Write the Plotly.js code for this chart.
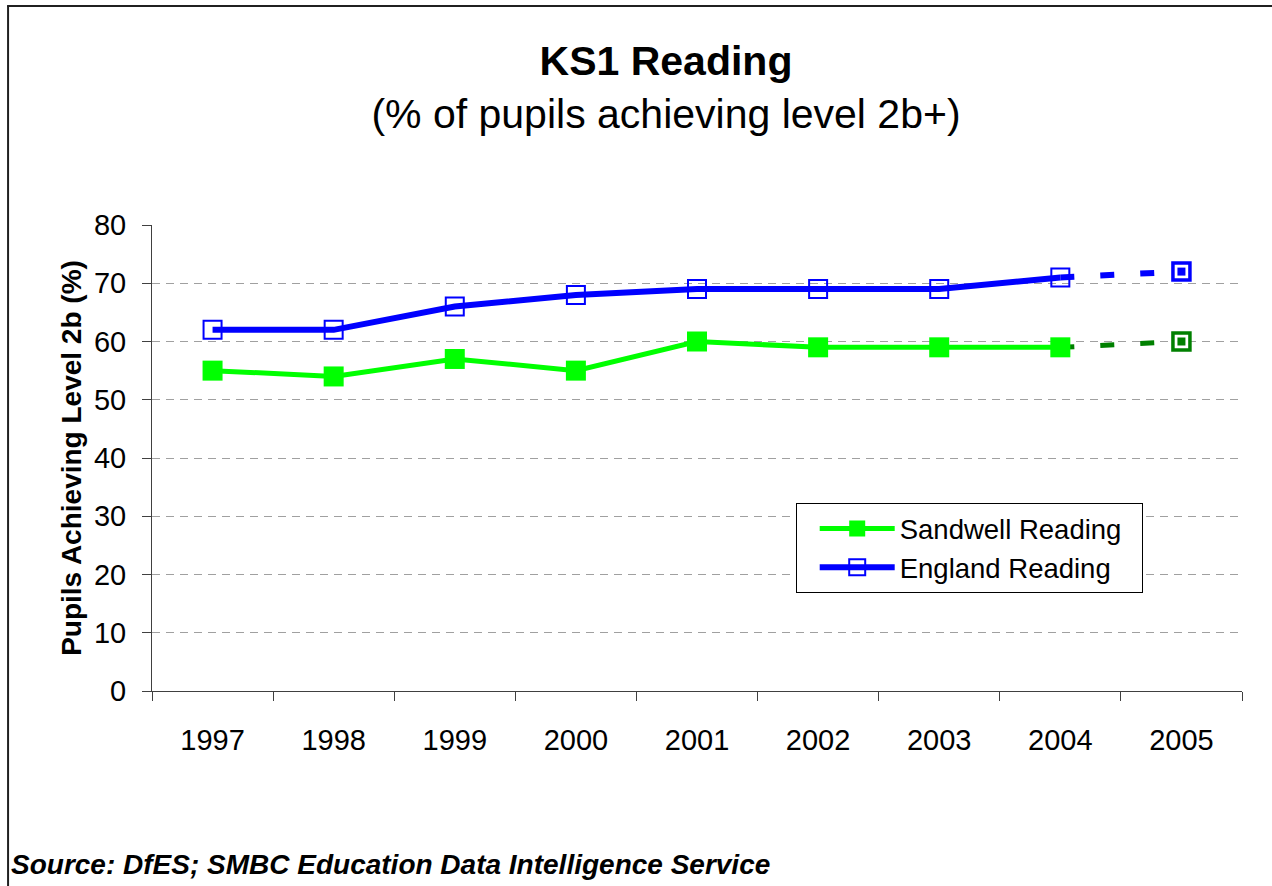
<!DOCTYPE html>
<html>
<head>
<meta charset="utf-8">
<script src="https://cdn.plot.ly/plotly-3.0.1.min.js"></script>
<style>
  html, body { margin: 0; padding: 0; background: #ffffff; }
  #chart { width: 1272px; height: 886px; }
</style>
</head>
<body>
<div id="chart"></div>
<script>
// ---- data ----
const years = ['1997', '1998', '1999', '2000', '2001', '2002', '2003', '2004', '2005'];
const actualYears = ['1997', '1998', '1999', '2000', '2001', '2002', '2003', '2004'];
const sandwellReading = [55, 54, 57, 55, 60, 59, 59, 59];
const englandReading = [62, 62, 66, 68, 69, 69, 69, 71];
const projYears = ['2004', '2005'];
const sandwellProj = [59, 60];
const englandProj = [71, 72];
const yTicks = [0, 10, 20, 30, 40, 50, 60, 70, 80];

const FONT = 'Arial, "Liberation Sans", sans-serif';
const BLUE = '#0000ff';
const GREEN = '#00ff00';
const DKGREEN = '#008000';

const traces = [
  {
    x: projYears, y: englandProj, mode: 'lines', type: 'scatter',
    line: { color: BLUE, width: 6, dash: '14px,26px' },
    showlegend: false, hoverinfo: 'skip'
  },
  {
    x: projYears, y: sandwellProj, mode: 'lines', type: 'scatter',
    line: { color: DKGREEN, width: 5, dash: '14px,26px' },
    showlegend: false, hoverinfo: 'skip'
  },
  {
    name: 'Sandwell Reading&nbsp;&nbsp;', x: actualYears, y: sandwellReading,
    mode: 'lines+markers', type: 'scatter',
    line: { color: GREEN, width: 5 },
    marker: { symbol: 'square', size: 20, color: GREEN },
    legendgroup: 'a'
  },
  {
    name: 'England Reading', x: actualYears, y: englandReading,
    mode: 'lines+markers', type: 'scatter',
    line: { color: BLUE, width: 6 },
    marker: { symbol: 'square-open', size: 18, color: BLUE, line: { color: BLUE, width: 2 } },
    legendgroup: 'b'
  },
  {
    x: [projYears[1], projYears[1]], y: [englandProj[1], sandwellProj[1]],
    mode: 'markers', type: 'scatter',
    marker: { symbol: 'square', size: 17, color: '#ffffff', line: { color: [BLUE, DKGREEN], width: 3.5 } },
    showlegend: false, hoverinfo: 'skip'
  },
  {
    x: [projYears[1], projYears[1]], y: [englandProj[1], sandwellProj[1]],
    mode: 'markers', type: 'scatter',
    marker: { symbol: 'square', size: 8, color: [BLUE, DKGREEN] },
    showlegend: false, hoverinfo: 'skip'
  }
];

const L = 152, R = 1242.5, T = 225, B = 691;
const px2x = p => (p - L) / (R - L);
const px2y = p => (B - p) / (B - T);

const layout = {
  width: 1272, height: 886,
  margin: { l: L, r: 1272 - R, t: T, b: 886 - B, pad: 0 },
  paper_bgcolor: '#ffffff', plot_bgcolor: '#ffffff',
  font: { family: FONT, color: '#000000' },
  showlegend: true,
  title: {
    text: '<b>KS1 Reading</b><br>(% of pupils achieving level 2b+)',
    font: { family: FONT, size: 41, color: '#000000' },
    x: 666 / 1272, xref: 'container', xanchor: 'center',
    y: 1 - 75 / 886, yref: 'container', yanchor: 'top'
  },
  xaxis: {
    type: 'category', categoryorder: 'array', categoryarray: years,
    range: [-0.5, 8.5],
    showline: true, linecolor: '#404040', linewidth: 1,
    ticks: 'outside', tickson: 'boundaries', ticklen: 9, tickcolor: '#404040', tickwidth: 1,
    ticklabelstandoff: 23,
    tickfont: { family: FONT, size: 29, color: '#000000' },
    showgrid: false, zeroline: false, fixedrange: true
  },
  yaxis: {
    range: [0, 80], tickvals: yTicks, ticktext: yTicks.map(String),
    showline: true, linecolor: '#404040', linewidth: 1,
    ticks: 'outside', ticklen: 9, tickcolor: '#404040', tickwidth: 1,
    ticklabelstandoff: 10,
    tickfont: { family: FONT, size: 29, color: '#000000' },
    showgrid: true, gridcolor: '#a0a0a0', gridwidth: 1, griddash: '8px,6px',
    zeroline: false, fixedrange: true,
    title: {
      text: '<b>Pupils Achieving Level 2b (%)</b>',
      font: { family: FONT, size: 28, color: '#000000' },
      standoff: 4
    }
  },
  legend: {
    x: px2x(796), y: px2y(503), xanchor: 'left', yanchor: 'top',
    bgcolor: '#ffffff', bordercolor: '#000000', borderwidth: 1,
    font: { family: FONT, size: 27.5, color: '#000000' },
    itemwidth: 75, indentation: 18, tracegroupgap: 8, traceorder: 'normal'
  },
  annotations: [
    {
      text: '<b><i>Source: DfES; SMBC Education Data Intelligence Service</i></b>',
      xref: 'paper', yref: 'paper', x: px2x(9), y: px2y(864),
      xanchor: 'left', yanchor: 'middle', showarrow: false,
      font: { family: FONT, size: 28, color: '#000000' }
    }
  ],
  shapes: [
    { type: 'line', xref: 'paper', yref: 'paper', x0: px2x(8), x1: px2x(8), y0: px2y(6), y1: px2y(900),
      line: { color: '#202020', width: 2 } },
    { type: 'line', xref: 'paper', yref: 'paper', x0: px2x(7), x1: px2x(1290), y0: px2y(6), y1: px2y(6),
      line: { color: '#202020', width: 2 } }
  ]
};

Plotly.newPlot('chart', traces, layout, { displayModeBar: false, staticPlot: true });
</script>
</body>
</html>
